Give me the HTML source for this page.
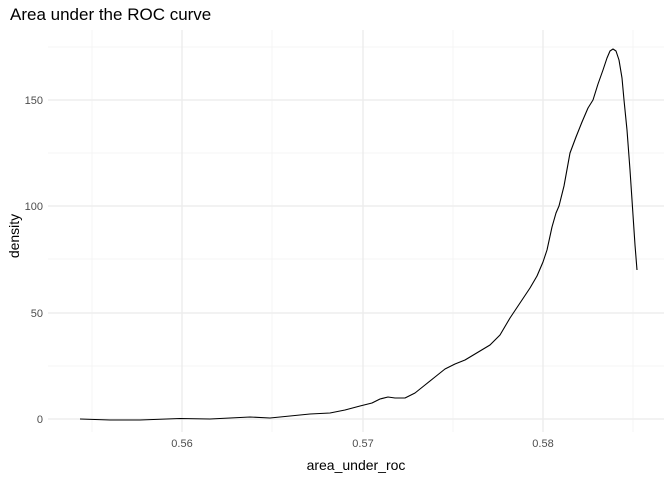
<!DOCTYPE html>
<html><head><style>body{margin:0;background:#fff}</style></head><body>
<svg width="672" height="480" xmlns="http://www.w3.org/2000/svg" font-family="Liberation Sans, sans-serif">
<rect width="672" height="480" fill="#fff"/>
<g stroke="#f2f2f2" stroke-width="0.7">
<line x1="48" x2="664" y1="366" y2="366"/><line x1="48" x2="664" y1="259" y2="259"/><line x1="48" x2="664" y1="153" y2="153"/><line x1="48" x2="664" y1="47" y2="47"/>
<line x1="92" x2="92" y1="30" y2="432"/><line x1="272" x2="272" y1="30" y2="432"/><line x1="453" x2="453" y1="30" y2="432"/><line x1="633" x2="633" y1="30" y2="432"/>
</g>
<g stroke="#ebebeb" stroke-width="1.3">
<line x1="48" x2="664" y1="419" y2="419"/><line x1="48" x2="664" y1="313" y2="313"/><line x1="48" x2="664" y1="206" y2="206"/><line x1="48" x2="664" y1="100" y2="100"/>
<line x1="182" x2="182" y1="30" y2="432"/><line x1="363" x2="363" y1="30" y2="432"/><line x1="543" x2="543" y1="30" y2="432"/>
</g>
<polyline fill="none" stroke="#000" stroke-width="1.1" stroke-linejoin="round" points="80,419 110,420 140,420 180,418.5 210,419 250,417 270,418 290,416 310,414 330,413 345,410 360,406 372,403 380,399 388,397 395,398 405,398 415,393 425,385 435,377 445,369 455,364 465,360 475,354 490,345 500,335 510,318 520,303 530,288 537,276 543,262 547,250 552,227 556,213 559,206 564,186 570,153 576,137 582,122 588,108 593,100 598,84 603,70 607,58 610,51 613,49 616,51 619,60 622,78 624,100 627,130 630,170 633,215 635,245 637,270"/>
<g font-size="11" fill="#4d4d4d" text-anchor="end">
<text x="43" y="423">0</text><text x="43" y="317">50</text><text x="43" y="210">100</text><text x="43" y="104">150</text>
</g>
<g font-size="11" fill="#4d4d4d" text-anchor="middle">
<text x="182" y="447">0.56</text><text x="363" y="447">0.57</text><text x="543" y="447">0.58</text>
</g>
<text x="356" y="470" font-size="14" text-anchor="middle">area_under_roc</text>
<text transform="translate(19,236) rotate(-90)" font-size="14" text-anchor="middle">density</text>
<text x="10" y="20" font-size="17">Area under the ROC curve</text>
</svg>
</body></html>
